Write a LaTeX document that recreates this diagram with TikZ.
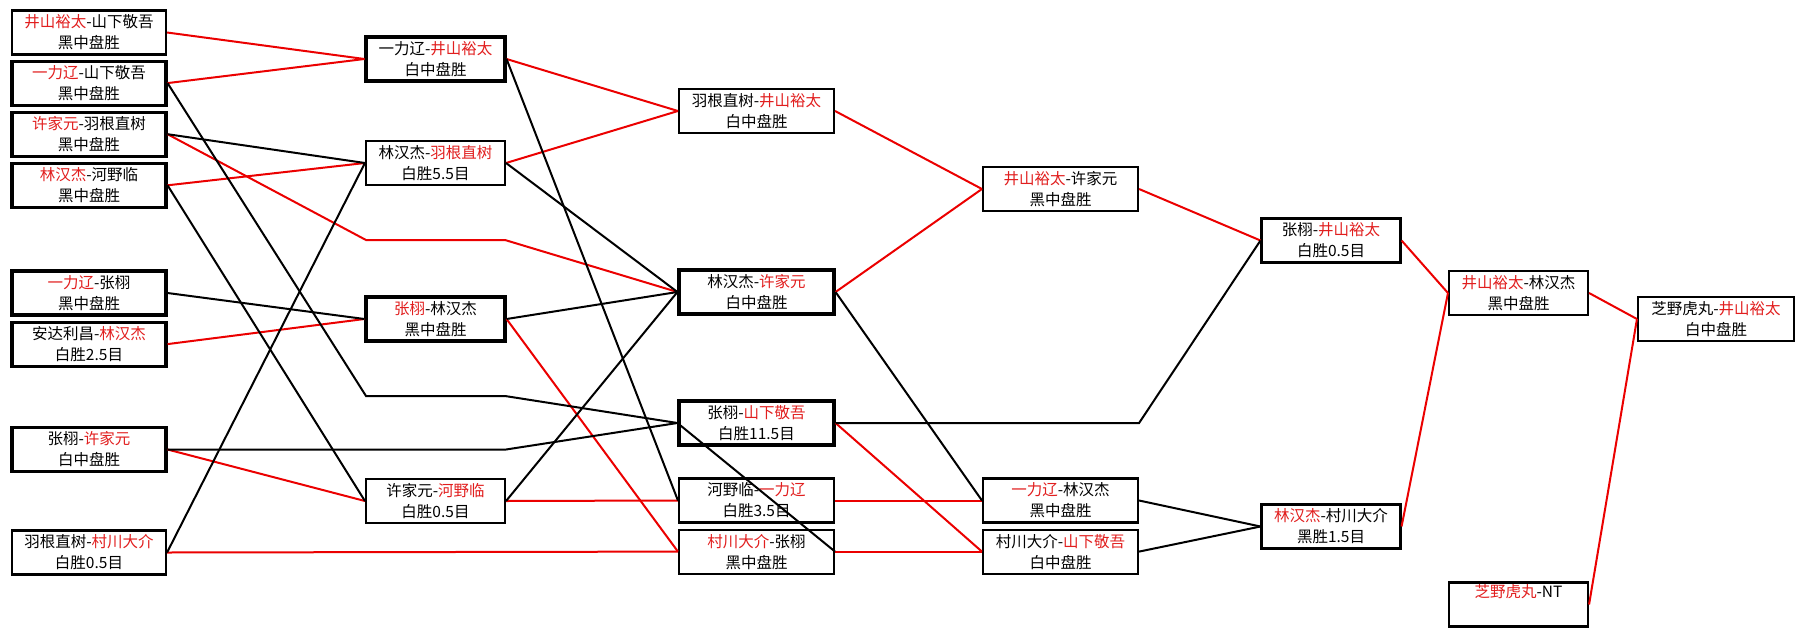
\documentclass[tikz,border=0pt]{standalone}
\usepackage{fontspec}
\setmainfont{Noto Sans CJK SC}
\usepackage{xcolor}
\usepackage{tikz}
\usetikzlibrary{positioning}
\definecolor{hred}{RGB}{235,0,0}
\definecolor{htext}{RGB}{225,30,30}
\newcommand{\winner}[1]{\textcolor{htext}{#1}}

\begin{document}
\begin{tikzpicture}[x=1pt, y=-1pt,
  gamebox/.style={draw, line width=2.1pt, minimum height=44pt, inner sep=0pt, align=center, font=\fontsize{15.5}{21}\selectfont},
  heavybox/.style={gamebox, line width=3.1pt},
  colA/.style={minimum width=154pt},
  colB/.style={minimum width=139pt},
  colC/.style={minimum width=155pt},
  win/.style={draw=hred, line width=2pt},
  lose/.style={draw=black, line width=2pt}
]
\useasboundingbox (0,0) rectangle (1803,637);

% round 1
\node[gamebox, colA] (b1) at (89,32.5) {\winner{井山裕太}-山下敬吾\\黑中盘胜};
\node[heavybox, colA, below=4pt of b1] (b2) {\winner{一力辽}-山下敬吾\\黑中盘胜};
\node[heavybox, colA, below=4pt of b2] (b3) {\winner{许家元}-羽根直树\\黑中盘胜};
\node[heavybox, colA, below=4pt of b3] (b4) {\winner{林汉杰}-河野临\\黑中盘胜};
\node[heavybox, colA] (b5) at (89,293) {\winner{一力辽}-张栩\\黑中盘胜};
\node[heavybox, colA, below=4pt of b5] (b6) {安达利昌-\winner{林汉杰}\\白胜2.5目};
\node[heavybox, colA] (b7) at (89,449.5) {张栩-\winner{许家元}\\白中盘胜};
\node[gamebox, colA] (b8) at (89,552.5) {羽根直树-\winner{村川大介}\\白胜0.5目};

% round 2
\node[heavybox, colB] (A) at (435.5,59) {一力辽-\winner{井山裕太}\\白中盘胜};
\node[gamebox, colB] (B) at (435.5,163) {林汉杰-\winner{羽根直树}\\白胜5.5目};
\node[heavybox, colB] (C) at (435.5,319) {\winner{张栩}-林汉杰\\黑中盘胜};
\node[gamebox, colB] (D) at (435.5,501) {许家元-\winner{河野临}\\白胜0.5目};

% round 3
\node[gamebox, colC] (E) at (756.5,111) {羽根直树-\winner{井山裕太}\\白中盘胜};
\node[heavybox, colC] (F) at (756.5,292) {林汉杰-\winner{许家元}\\白中盘胜};
\node[heavybox, colC] (G) at (756.5,423) {张栩-\winner{山下敬吾}\\白胜11.5目};
\node[gamebox, colC] (H) at (756.5,500.5) {河野临-\winner{一力辽}\\白胜3.5目};
\node[gamebox, colC, below=5pt of H] (I) {\winner{村川大介}-张栩\\黑中盘胜};

% round 4
\node[gamebox, colC] (J) at (1060.5,189) {\winner{井山裕太}-许家元\\黑中盘胜};
\node[gamebox, colC] (K) at (1060.5,500.5) {\winner{一力辽}-林汉杰\\黑中盘胜};
\node[gamebox, colC, below=5pt of K] (L) {村川大介-\winner{山下敬吾}\\白中盘胜};

% round 5 and on
\node[gamebox, colB] (M) at (1331,240.5) {张栩-\winner{井山裕太}\\白胜0.5目};
\node[gamebox, colB] (N) at (1331,526.5) {\winner{林汉杰}-村川大介\\黑胜1.5目};
\node[gamebox, colB] (O) at (1518.5,293) {\winner{井山裕太}-林汉杰\\黑中盘胜};
\node[gamebox, colB] (P) at (1518.5,604.5) {\winner{芝野虎丸}-NT\\\strut};
\node[gamebox, minimum width=156pt] (Q) at (1716,319) {芝野虎丸-\winner{井山裕太}\\白中盘胜};

\draw[win] (b1.east) -- (A.west);
\draw[win] (b2.east) -- (A.west);
\draw[win] (b3.east) -- (366,240) -- (505,240) -- (F.west);
\draw[win] (b4.east) -- (B.west);
\draw[win] (b6.east) -- (C.west);
\draw[win] (b7.east) -- (D.west);
\draw[win] (b8.east) -- (I.west);
\draw[win] (A.east) -- (E.west);
\draw[win] (B.east) -- (E.west);
\draw[win] (C.east) -- (I.west);
\draw[win] (D.east) -- (H.west);
\draw[win] (E.east) -- (J.west);
\draw[win] (F.east) -- (J.west);
\draw[win] (G.east) -- (L.west);
\draw[win] (H.east) -- (K.west);
\draw[win] (I.east) -- (L.west);
\draw[win] (J.east) -- (M.west);
\draw[win] (M.east) -- (O.west);
\draw[win] (N.east) -- (O.west);
\draw[win] (O.east) -- (Q.west);
\draw[win] (P.east) -- (Q.west);

\draw[lose] (b2.east) -- (366,396) -- (505,396) -- (G.west);
\draw[lose] (b3.east) -- (B.west);
\draw[lose] (b4.east) -- (D.west);
\draw[lose] (b5.east) -- (C.west);
\draw[lose] (b7.east) -- (b7.east -| D.east) -- (G.west);
\draw[lose] (b8.east) -- (B.west);
\draw[lose] (A.east) -- (H.west);
\draw[lose] (B.east) -- (F.west);
\draw[lose] (C.east) -- (F.west);
\draw[lose] (D.east) -- (F.west);
\draw[lose] (I.east) -- (G.west);
\draw[lose] (F.east) -- (K.west);
\draw[lose] (G.east) -- (G.east -| L.east) -- (M.west);
\draw[lose] (K.east) -- (N.west);
\draw[lose] (L.east) -- (N.west);
\end{tikzpicture}
\end{document}
